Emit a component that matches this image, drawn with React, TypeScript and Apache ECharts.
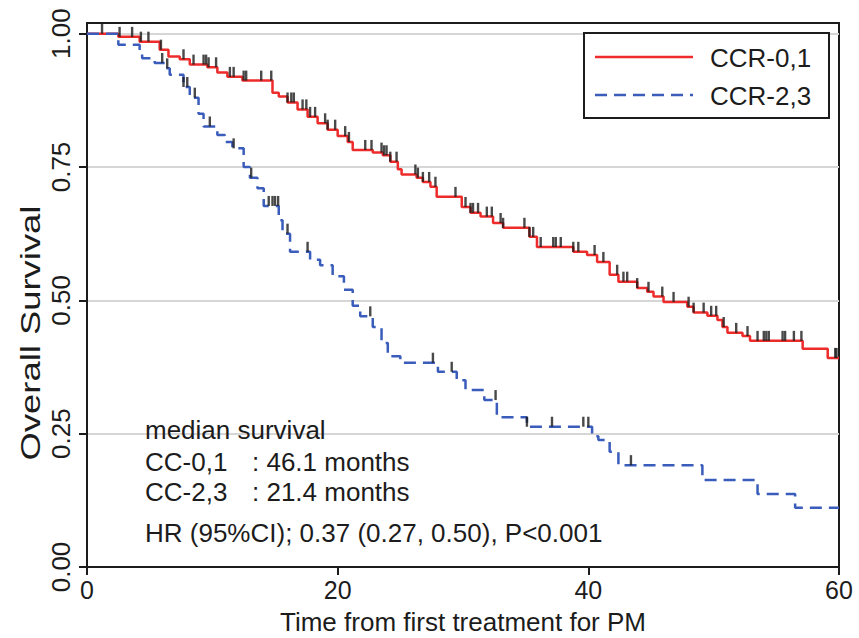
import React, { useEffect, useRef } from "react";
import * as echarts from "echarts";

// Kaplan-Meier step vertices [time (months), survival from that time onward]
const ccr01Steps: [number, number][] = [
  [0, 1.0], [2.5, 0.994], [4.2, 0.985], [5.8, 0.97], [6.5, 0.957], [7.4, 0.952],
  [8.2, 0.942], [9.6, 0.937], [10.4, 0.927], [11.2, 0.919], [12.4, 0.912],
  [14.8, 0.889], [15.3, 0.882], [16.0, 0.871], [16.8, 0.858], [17.6, 0.844],
  [18.4, 0.832], [19.2, 0.82], [20.0, 0.808], [20.8, 0.797], [21.2, 0.782],
  [22.8, 0.777], [23.6, 0.772], [24.2, 0.76], [24.8, 0.746], [25.1, 0.736],
  [26.3, 0.73], [26.8, 0.722], [27.4, 0.713], [27.9, 0.694], [29.9, 0.675],
  [30.6, 0.664], [31.4, 0.657], [32.4, 0.645], [33.2, 0.636], [35.3, 0.619],
  [35.9, 0.6], [38.8, 0.591], [39.9, 0.585], [40.7, 0.572], [41.7, 0.548],
  [42.4, 0.535], [43.9, 0.523], [44.7, 0.516], [45.2, 0.507], [46.0, 0.497],
  [47.9, 0.488], [48.4, 0.477], [49.5, 0.471], [50.3, 0.463], [50.7, 0.45],
  [51.1, 0.439], [52.3, 0.433], [52.9, 0.424], [57.1, 0.409], [59.1, 0.392],
  [60, 0.392],
];

const ccr23Steps: [number, number][] = [
  [0, 1.0], [2.5, 0.979], [4.2, 0.965], [4.4, 0.954], [5.4, 0.945], [6.2, 0.935],
  [6.6, 0.923], [7.7, 0.9], [8.2, 0.88], [8.9, 0.85], [9.3, 0.826], [10.4, 0.81],
  [11.0, 0.797], [11.6, 0.785], [12.5, 0.75], [13.0, 0.73], [13.6, 0.71],
  [14.1, 0.677], [15.3, 0.65], [15.6, 0.625], [16.2, 0.591], [17.8, 0.576],
  [18.6, 0.566], [19.6, 0.545], [20.5, 0.52], [21.2, 0.49], [21.8, 0.47],
  [22.8, 0.45], [23.5, 0.42], [24.0, 0.395], [25.0, 0.383], [28.0, 0.366],
  [29.5, 0.35], [30.2, 0.332], [31.7, 0.313], [32.7, 0.281], [35.1, 0.263],
  [40.3, 0.245], [40.8, 0.238], [41.7, 0.216], [42.4, 0.191], [49.1, 0.163],
  [53.5, 0.137], [56.5, 0.111], [60, 0.111],
];

// censoring times (months)
const ccr01Censor: number[] = [
  1.2, 2.6, 3.6, 4.3, 4.9, 5.9, 7.7, 8.5, 9.3, 9.5, 9.7, 10.3, 11.4, 11.7, 12.5,
  12.7, 13.9, 14.7, 16.0, 16.3, 16.5, 17.2, 17.5, 17.8, 18.2, 19.0, 19.2, 19.8,
  20.6, 20.9, 22.2, 22.7, 23.5, 23.7, 23.9, 24.2, 24.7, 26.2, 26.4, 26.8, 27.3,
  27.8, 29.4, 30.2, 30.6, 30.8, 31.2, 31.9, 32.3, 33.0, 33.2, 34.9, 35.3, 35.6,
  36.2, 37.2, 37.4, 37.8, 38.8, 39.2, 40.5, 41.2, 42.3, 42.8, 43.1, 43.9, 44.8,
  45.9, 46.8, 48.0, 48.4, 49.2, 49.8, 50.2, 50.8, 51.8, 52.7, 53.5, 54.0, 54.2,
  54.4, 55.5, 55.7, 56.4, 57.0, 59.7, 59.8,
];
const ccr23Censor: number[] = [
  6.0, 6.4, 7.7, 8.0, 8.6, 9.8, 11.7, 13.1, 14.5, 14.8, 15.0, 15.25, 16.0, 17.6,
  22.6, 27.6, 29.1, 32.6, 35.1, 37.1, 39.6, 40.0, 43.4,
];

const xTicks = [0, 20, 40, 60];
const yTicks = [0, 0.25, 0.5, 0.75, 1.0];
const seriesNames = ["CCR-0,1", "CCR-2,3"];
const xTitle = "Time from first treatment for PM";
const yTitle = "Overall Survival";
const noteLines = [
  "median survival",
  "CC-0,1",
  ": 46.1 months",
  "CC-2,3",
  ": 21.4 months",
  "HR (95%CI); 0.37 (0.27, 0.50), P<0.001",
];

const RED = "#ee2b2b";
const BLUE = "#3a5dbb";
const INK = "#1c1c1c";
const FONT = "Liberation Sans, Arial, sans-serif";

function survivalAt(steps: [number, number][], t: number): number {
  let s = steps[0][1];
  for (const [ti, si] of steps) {
    if (ti <= t) s = si;
    else break;
  }
  return s;
}

export default function App() {
  const ref = useRef<HTMLDivElement>(null);

  useEffect(() => {
    if (!ref.current) return;
    const chart = echarts.init(ref.current, undefined, { renderer: "svg" });

    const censorSymbol = {
      type: "scatter" as const,
      symbol: "rect",
      symbolSize: [2.4, 10],
      symbolOffset: [0, -5],
      itemStyle: { color: INK },
      z: 5,
      silent: true,
    };

    chart.setOption({
      animation: false,
      backgroundColor: "#ffffff",
      grid: {
        left: 87,
        right: 20,
        top: 23,
        bottom: 71,
        show: true,
        borderColor: INK,
        borderWidth: 2,
        backgroundColor: "transparent",
        containLabel: false,
        outerBoundsMode: "none",
      },
      xAxis: {
        type: "value",
        min: xTicks[0],
        max: xTicks[xTicks.length - 1],
        interval: 20,
        name: xTitle,
        nameLocation: "middle",
        nameGap: 42,
        nameTextStyle: { fontFamily: FONT, fontSize: 26, color: INK },
        axisLine: { show: true, onZero: false, lineStyle: { color: INK, width: 2 } },
        axisTick: { show: true, inside: false, length: 8, lineStyle: { color: INK, width: 2 } },
        axisLabel: { fontFamily: FONT, fontSize: 25, color: INK, margin: 10 },
        splitLine: { show: false },
      },
      yAxis: {
        type: "value",
        min: 0,
        max: 1.02,
        interval: 0.25,
        axisLine: { show: true, onZero: false, lineStyle: { color: INK, width: 2 } },
        axisTick: {
          show: true,
          inside: false,
          length: 8,
          customValues: yTicks,
          lineStyle: { color: INK, width: 2 },
        },
        axisLabel: {
          customValues: yTicks,
          rotate: 90,
          margin: 13,
          fontFamily: FONT,
          fontSize: 26,
          color: INK,
          formatter: (v: number) =>
            Math.abs(v * 4 - Math.round(v * 4)) > 1e-6 ? "" : v.toFixed(2),
        },
        splitLine: { show: true, lineStyle: { color: "#d6d6d6", width: 2 } },
      },
      series: [
        {
          name: seriesNames[0],
          type: "line",
          step: "end",
          symbol: "none",
          data: ccr01Steps,
          lineStyle: { color: RED, width: 2.5 },
          z: 3,
          silent: true,
        },
        {
          name: seriesNames[1],
          type: "line",
          step: "end",
          symbol: "none",
          data: ccr23Steps,
          lineStyle: { color: BLUE, width: 2.5, type: [12, 7] },
          z: 3,
          silent: true,
        },
        {
          ...censorSymbol,
          name: seriesNames[0] + " censored",
          data: ccr01Censor.map((t) => [t, survivalAt(ccr01Steps, t)]),
        },
        {
          ...censorSymbol,
          name: seriesNames[1] + " censored",
          data: ccr23Censor.map((t) => [t, survivalAt(ccr23Steps, t)]),
        },
      ],
      graphic: [
        {
          type: "text",
          x: 31,
          y: 333,
          rotation: Math.PI / 2,
          scaleX: 1.3,
          style: {
            text: yTitle,
            fontFamily: FONT,
            fontSize: 28,
            fill: INK,
            align: "center",
            verticalAlign: "middle",
          },
        },
        {
          type: "rect",
          shape: { x: 584, y: 33, width: 245, height: 85 },
          style: { fill: "#ffffff", stroke: INK, lineWidth: 2 },
          z: 10,
        },
        {
          type: "line",
          shape: { x1: 595, y1: 57, x2: 693, y2: 57 },
          style: { stroke: RED, lineWidth: 2.5 },
          z: 11,
        },
        {
          type: "line",
          shape: { x1: 595, y1: 95, x2: 693, y2: 95 },
          style: { stroke: BLUE, lineWidth: 2.5, lineDash: [12, 7] },
          z: 11,
        },
        {
          type: "text",
          x: 710,
          y: 58,
          style: { text: seriesNames[0], fontFamily: FONT, fontSize: 26, fill: INK, verticalAlign: "middle" },
          z: 11,
        },
        {
          type: "text",
          x: 710,
          y: 96,
          style: { text: seriesNames[1], fontFamily: FONT, fontSize: 26, fill: INK, verticalAlign: "middle" },
          z: 11,
        },
        {
          type: "text",
          x: 145,
          y: 430,
          style: { text: noteLines[0], fontFamily: FONT, fontSize: 26, fill: INK, verticalAlign: "middle" },
          z: 11,
        },
        {
          type: "text",
          x: 145,
          y: 462,
          style: { text: noteLines[1], fontFamily: FONT, fontSize: 26, fill: INK, verticalAlign: "middle" },
          z: 11,
        },
        {
          type: "text",
          x: 252,
          y: 462,
          style: { text: noteLines[2], fontFamily: FONT, fontSize: 26, fill: INK, verticalAlign: "middle" },
          z: 11,
        },
        {
          type: "text",
          x: 145,
          y: 492,
          style: { text: noteLines[3], fontFamily: FONT, fontSize: 26, fill: INK, verticalAlign: "middle" },
          z: 11,
        },
        {
          type: "text",
          x: 252,
          y: 492,
          style: { text: noteLines[4], fontFamily: FONT, fontSize: 26, fill: INK, verticalAlign: "middle" },
          z: 11,
        },
        {
          type: "text",
          x: 145,
          y: 533,
          style: { text: noteLines[5], fontFamily: FONT, fontSize: 26, fill: INK, verticalAlign: "middle" },
          z: 11,
        },
      ],
    });

    return () => chart.dispose();
  }, []);

  return (
    <div
      ref={ref}
      style={{ position: "fixed", left: 0, top: 0, width: 859, height: 638, background: "#fff" }}
    />
  );
}
